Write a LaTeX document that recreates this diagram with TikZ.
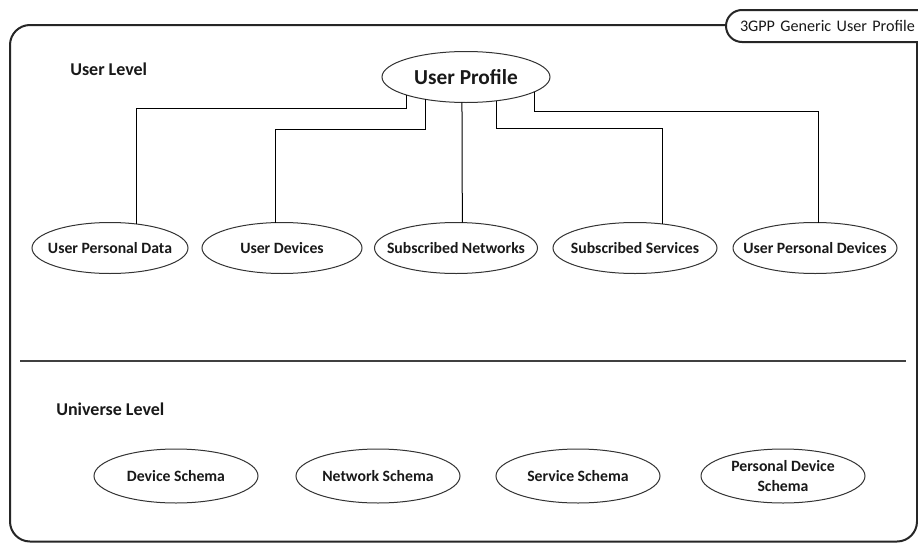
\documentclass[tikz,border=0pt]{standalone}
\usepackage{fontspec}
\setmainfont{Carlito}
\usetikzlibrary{shapes.geometric}
\begin{document}
\begin{tikzpicture}[x=0.75pt,y=-0.75pt,
  ell/.style={ellipse, draw=black!80, line width=0.75pt, inner xsep=-14pt, inner ysep=0pt, outer sep=0pt,
    minimum height=38.25pt, align=center, font=\fontsize{11.8pt}{13pt}\selectfont\bfseries, text=black!90},
  conn/.style={draw=black, line width=0.75pt},
  frameline/.style={line width=1.5pt, draw=black!85},
  lvl/.style={anchor=west, inner sep=0pt, font=\fontsize{13.5pt}{16pt}\selectfont\bfseries, text=black!90}]

\useasboundingbox (0,0) rectangle (918,543);
\clip (0,0) rectangle (918,543);
\fill[white] (0,0) rectangle (918,543);

% outer frame
\draw[frameline, rounded corners=15] (725,25) -- (10,25) -- (10,541.5) -- (917,541.5) -- (917,42);

% tab
\node[frameline, fill=white, rounded corners=12, anchor=west, minimum height=24pt, inner xsep=10.5pt,
      text width=155pt, align=left, font=\fontsize{12.1pt}{14pt}\selectfont, text=black!90]
      (tab) at (725,26) {3GPP Generic User Profile};

% level labels
\node[lvl] (ulevel) at (70,69) {User Level};
\node[lvl] (vlevel) at (56,409) {Universe Level};

% divider
\draw[line width=1pt, black!75] (20,361) -- (906,361);

% user profile
\node[ell, minimum width=126pt, font=\fontsize{16pt}{18pt}\selectfont\bfseries] (up) at (466,77) {User Profile};

% top row
\node[ell, minimum width=117pt]    (upd) at (110,248) {User Personal Data};
\node[ell, minimum width=120pt]    (ud)  at (282,248) {User Devices};
\node[ell, minimum width=122.25pt] (sn)  at (456,248) {Subscribed Networks};
\node[ell, minimum width=123pt]    (ss)  at (635,248) {Subscribed Services};
\node[ell, minimum width=123pt]    (upv) at (815,248) {User Personal Devices};

% bottom row
\node[ell, minimum width=123pt, minimum height=40.5pt] (ds)  at (176,476) {Device Schema};
\node[ell, minimum width=123pt, minimum height=40.5pt] (ns)  at (378,476) {Network Schema};
\node[ell, minimum width=123pt, minimum height=40.5pt] (ssc) at (578,476) {Service Schema};
\node[ell, minimum width=123pt, minimum height=40.5pt, font=\fontsize{11.8pt}{15pt}\selectfont\bfseries] (pds) at (783,476) {Personal Device\\Schema};

% connectors
\coordinate (h1) at (0,108);
\coordinate (h2) at (0,129);
\coordinate (h4) at (0,128.5);
\coordinate (h5) at (0,111);
\draw[conn] (up.197.6) -- (up.197.6 |- h1) -| (upd.42.7);
\draw[conn] (up.209.3) -- (up.209.3 |- h2) -| (ud.105.4);
\draw[conn] (up.261.1) -- (sn.76.7);
\draw[conn] (up.322.6) -- (up.322.6 |- h4) -| (ss.41.7);
\draw[conn] (up.348.1) -- (up.348.1 |- h5) -| (upv.83.3);
\end{tikzpicture}
\end{document}
